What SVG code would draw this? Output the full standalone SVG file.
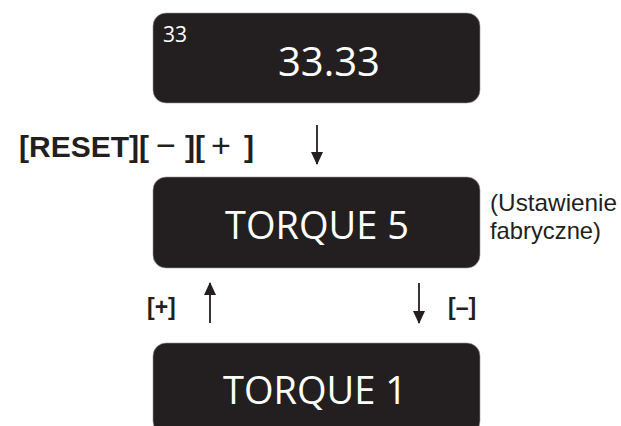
<svg xmlns="http://www.w3.org/2000/svg" width="621" height="426" viewBox="0 0 621 426">
<style>
.box{fill:#231f20;stroke:#9a9899;stroke-width:0.6}
.disp{fill:#ffffff;font-family:"Open Sans","DejaVu Sans",sans-serif;text-anchor:middle}
.key{fill:#231f20;font-family:"Liberation Sans",Arial,sans-serif;font-weight:bold}
.sym{font-weight:normal;font-size:34px}
.note{fill:#231f20;font-family:"Liberation Sans",Arial,sans-serif;font-size:24px}
.arr{stroke:#231f20;stroke-width:1.8;fill:none}
</style>
<defs>
<marker id="ah" markerWidth="13" markerHeight="12" refX="12" refY="6" orient="auto" markerUnits="userSpaceOnUse" viewBox="0 0 13 12">
<path d="M0,0 L13,6 L0,12 Z" fill="#231f20"/>
</marker>
</defs>
<g id="node-top">
<rect class="box" x="153" y="13" width="327" height="90" rx="13"/>
<text class="disp" x="163" y="42" style="text-anchor:start;font-size:21px">33</text>
<text class="disp" x="329" y="76" style="font-size:40px">33.33</text>
</g>
<g id="node-torque5">
<rect class="box" x="153" y="177" width="327" height="91" rx="13"/>
<text class="disp" x="317" y="239" style="font-size:38px">TORQUE 5</text>
</g>
<g id="node-torque1">
<rect class="box" x="153" y="343" width="327" height="91" rx="13"/>
<text class="disp" x="315" y="404" style="font-size:38px">TORQUE 1</text>
</g>
<g id="connectors">
<line class="arr" x1="317" y1="125" x2="317" y2="164" marker-end="url(#ah)"/>
<line class="arr" x1="210" y1="323" x2="210" y2="283" marker-end="url(#ah)"/>
<line class="arr" x1="419" y1="283" x2="419" y2="323" marker-end="url(#ah)"/>
</g>
<g id="labels">
<text class="key" y="157" font-size="30"><tspan x="19">[RESET][</tspan><tspan class="sym" x="156">−</tspan><tspan x="185">][</tspan><tspan class="sym" x="211">+</tspan><tspan x="244">]</tspan></text>
<text class="key" x="147" y="315" font-size="23">[+]</text>
<text class="key" x="448" y="315" font-size="23">[–]</text>
<text class="note" x="490" y="211" textLength="127" lengthAdjust="spacingAndGlyphs">(Ustawienie</text>
<text class="note" x="490" y="239" textLength="111" lengthAdjust="spacingAndGlyphs">fabryczne)</text>
</g>
</svg>
